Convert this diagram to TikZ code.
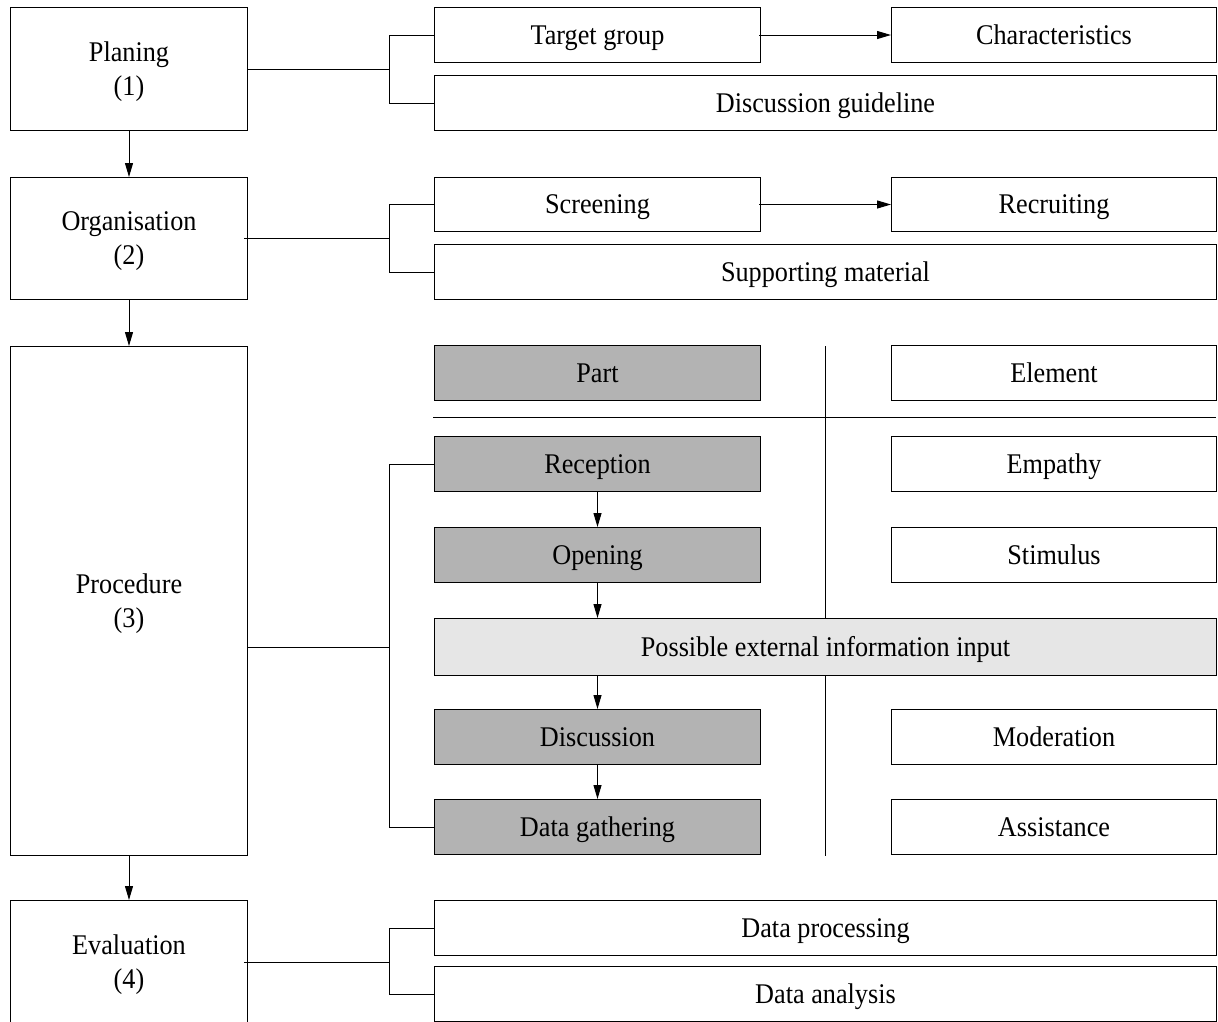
\documentclass[tikz,border=0pt]{standalone}
\usepackage{fontspec}
\setmainfont[FakeStretch=0.92]{Liberation Serif}
\usetikzlibrary{arrows.meta}
\definecolor{partgray}{HTML}{B3B3B3}
\definecolor{inputgray}{HTML}{E6E6E6}
\begin{document}
\begin{tikzpicture}[x=1pt,y=-1pt,
  line width=1pt,
  every node/.style={font=\fontsize{28.5}{34}\selectfont},
  box/.style={draw, inner sep=0pt, anchor=north west, align=center},
  single/.style={box, text height=18.6pt, text depth=0pt},
  stage/.style={box, minimum width=237pt, text depth=0pt},
  half/.style={single, minimum width=326pt, minimum height=55pt},
  wide/.style={single, minimum width=782pt, minimum height=55pt},
  part/.style={half, fill=partgray},
  link/.style={-{Triangle[length=14pt,width=8pt]}}]
\useasboundingbox (0,0) rectangle (1218,1021);
\clip (0,0) rectangle (1218,1021);

% stages on the left
\node[stage, minimum height=123pt] (plan) at (10,7)   {Planing\\(1)};
\node[stage, minimum height=122pt] (org)  at (10,177) {Organisation\\(2)};
\node[stage, minimum height=509pt] (proc) at (10,346) {Procedure\\(3)};
\node[stage, minimum height=123pt] (eval) at (10,900) {Evaluation\\(4)};

\draw[link] (plan.south) -- (org.north);
\draw[link] (org.south)  -- (proc.north);
\draw[link] (proc.south) -- (eval.north);

% planning
\node[half] (tg)   at (434,7)  {Target group};
\node[half, minimum width=325pt] (char) at (891,7) {Characteristics};
\node[wide] (guide) at (434,75) {Discussion guideline};
\draw[link] ([xshift=-2pt]tg.east) -- (char.west);
\draw (plan.east) -- ++(142,0);
\draw (tg.west) -- ++(-45,0) |- (guide.west);

% organisation
\node[half, minimum height=54pt] (scr) at (434,177) {Screening};
\node[half, minimum height=54pt, minimum width=325pt] (recr) at (891,177) {Recruiting};
\node[wide] (supp) at (434,244) {Supporting material};
\draw[link] ([xshift=-2pt]scr.east) -- (recr.west);
\draw ([xshift=-4pt]org.east) -- ++(146,0);
\draw (scr.west) -- ++(-45,0) |- (supp.west);

% procedure: parts and elements
\node[part] (parthead) at (434,345) {Part};
\node[half, minimum width=325pt] (elemhead) at (891,345) {Element};
\node[part] (recp) at (434,436) {Reception};
\node[half, minimum width=325pt] (emp) at (891,436) {Empathy};
\node[part] (open) at (434,527) {Opening};
\node[half, minimum width=325pt] (stim) at (891,527) {Stimulus};
\node[wide, minimum height=57pt, fill=inputgray] (poss) at (434,618) {Possible external information input};
\node[part] (disc) at (434,709) {Discussion};
\node[half, minimum width=325pt] (mod) at (891,709) {Moderation};
\node[part] (dgat) at (434,799) {Data gathering};
\node[half, minimum width=325pt] (assist) at (891,799) {Assistance};

\coordinate (sepL) at (433,417);
\coordinate (sepR) at (1216,417);
\coordinate (colTop) at (825,346);
\coordinate (colBot) at (825,856);
\draw (sepL) -- (sepR);
\draw (colTop) -- (colTop |- poss.north);
\draw (colBot |- poss.south) -- (colBot);

\draw[link] (recp.south) -- (open.north);
\draw[link] (open.south) -- (open.south |- poss.north);
\draw[link] (open.south |- poss.south) -- (disc.north);
\draw[link] (disc.south) -- (dgat.north);
\draw (proc.east |- poss.west) -- ++(142,0);
\draw (recp.west) -- ++(-45,0) |- (dgat.west);

% evaluation
\node[wide] (dproc) at (434,900) {Data processing};
\node[wide] (dana)  at (434,966) {Data analysis};
\draw ([xshift=-4pt]eval.east) -- ++(146,0);
\draw (dproc.west) -- ++(-45,0) |- (dana.west);
\end{tikzpicture}
\end{document}
